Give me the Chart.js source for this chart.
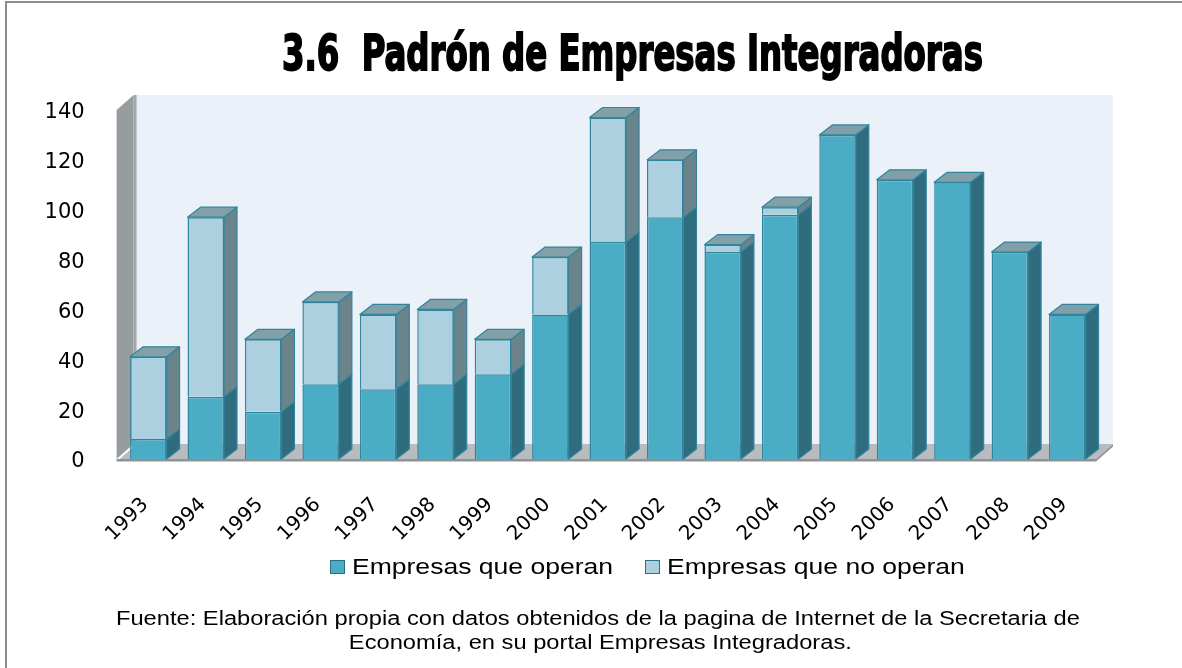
<!DOCTYPE html>
<html>
<head>
<meta charset="utf-8">
<script src="https://cdn.jsdelivr.net/npm/chart.js@4.4.1/dist/chart.umd.min.js"></script>
<style>
  html, body { margin: 0; padding: 0; background: #fff; }
  #frame { position: relative; width: 1182px; height: 668px; overflow: hidden; background: #fff; }
  #frame .edge { position: absolute; left: 5px; top: 1px; right: -4px; bottom: -4px;
    border-left: 2px solid #8d8d8d; border-top: 2px solid #8d8d8d; pointer-events: none; }
  #chart { position: absolute; left: 0; top: 0; }
  .stretch { position: absolute; white-space: nowrap; color: #000; }
  #title { font-family: "DejaVu Sans Condensed", "DejaVu Sans", sans-serif; font-weight: bold;
    font-size: 49px; line-height: 48px; top: 30px; -webkit-text-stroke: 1.8px #000;
    transform-origin: 50% 50%; }
  .foot { font-family: "Liberation Sans", Arial, sans-serif; font-size: 20px; line-height: 23px;
    transform-origin: 50% 50%; }
  #foot1 { top: 607px; }
  #foot2 { top: 631px; }
  .lg-box { position: absolute; width: 13px; height: 12px; border: 1px solid #2c7083; top: 560px; }
  .lg-text { position: absolute; font-family: "Liberation Sans", Arial, sans-serif; font-size: 22px;
    line-height: 24px; top: 555px; white-space: nowrap; color: #000; transform-origin: 0 50%; }
</style>
</head>
<body>
<div id="frame">
  <canvas id="chart" width="1182" height="668"></canvas>
  <div id="title" class="stretch">3.6&nbsp; Padrón de Empresas Integradoras</div>
  <div id="legend"></div>
  <div id="foot1" class="stretch foot">Fuente: Elaboración propia con datos obtenidos de la pagina de Internet de la Secretaria de</div>
  <div id="foot2" class="stretch foot">Economía, en su portal Empresas Integradoras.</div>
  <div class="edge"></div>
</div>
<script>
// Registered integrating companies per year
const years = ['1993','1994','1995','1996','1997','1998','1999','2000','2001',
               '2002','2003','2004','2005','2006','2007','2008','2009'];
const operan   = [8, 25, 19, 30, 28, 30, 34, 58, 87, 97, 83, 98, 130, 112, 111, 83, 58];
const noOperan = [33, 72, 29, 33, 30, 30, 14, 23, 50, 23, 3, 3, 0, 0, 0, 0, 0];
const seriesNames = ['Empresas que operan', 'Empresas que no operan'];
const yMax = 140;
const yStep = 20;

// Colours of the front, side and top faces of each series
const faceFront = ['#4bacc6', '#acd0df'];
const faceSide  = ['#2f6c7e', '#6b848c'];
const faceTop   = ['#809fa8', '#82a0a8'];
const edgeColor = '#31859c';

// Depth offsets of the pseudo-3D walls and boxes
const WALL_DX = 17, WALL_DY = 15;
const BAR_DX = 13, BAR_DY = 10;

function poly(ctx, pts, fill, stroke, lw) {
  ctx.beginPath();
  ctx.moveTo(pts[0][0], pts[0][1]);
  for (let i = 1; i < pts.length; i++) ctx.lineTo(pts[i][0], pts[i][1]);
  ctx.closePath();
  if (fill) { ctx.fillStyle = fill; ctx.fill(); }
  if (stroke) { ctx.strokeStyle = stroke; ctx.lineWidth = lw || 1; ctx.stroke(); }
}

// Back wall, side wall and floor behind the bars
const walls3d = {
  id: 'walls3d',
  beforeDatasetsDraw(chart) {
    const { ctx, chartArea: { left, right, top, bottom } } = chart;
    const wl = left - 3;
    ctx.save();
    // back wall
    ctx.fillStyle = '#eaf1f8';
    ctx.fillRect(left + WALL_DX, top - WALL_DY, right - left, bottom - top);
    // side wall
    poly(ctx, [[wl, top], [wl + WALL_DX, top - WALL_DY],
               [wl + WALL_DX, bottom - WALL_DY], [wl, bottom]], '#979c9f');
    poly(ctx, [[wl + WALL_DX, top - WALL_DY], [left + WALL_DX, top - WALL_DY],
               [left + WALL_DX, bottom - WALL_DY], [wl + WALL_DX, bottom - WALL_DY]], '#a3a8ab');
    // floor
    poly(ctx, [[left, bottom], [left + WALL_DX, bottom - WALL_DY],
               [right + WALL_DX, bottom - WALL_DY], [right, bottom]], '#b9bcbf');
    ctx.fillStyle = '#8f9294';
    ctx.fillRect(wl, bottom, right - wl, 2.5);
    poly(ctx, [[right, bottom], [right + WALL_DX, bottom - WALL_DY],
               [right + WALL_DX, bottom - WALL_DY + 2.5], [right, bottom + 2.5]], '#8f9294');
    ctx.restore();
  },
  // Side and top faces of every stacked box
  afterDatasetsDraw(chart) {
    const { ctx } = chart;
    const sets = chart.data.datasets;
    ctx.save();
    ctx.lineJoin = 'round';
    sets.forEach((ds, di) => {
      const meta = chart.getDatasetMeta(di);
      meta.data.forEach((bar, i) => {
        if (!ds.data[i]) return;
        const { x, y, base, width } = bar.getProps(['x', 'y', 'base', 'width'], true);
        const xl = x - width / 2, xr = x + width / 2;
        poly(ctx, [[xr, y], [xr + BAR_DX, y - BAR_DY], [xr + BAR_DX, base - BAR_DY], [xr, base]],
             faceSide[di], edgeColor, 1.2);
        let isTop = true;
        for (let k = di + 1; k < sets.length; k++) if (sets[k].data[i]) isTop = false;
        if (isTop) {
          poly(ctx, [[xl, y], [xl + BAR_DX, y - BAR_DY], [xr + BAR_DX, y - BAR_DY], [xr, y]],
               faceTop[di], edgeColor, 1.2);
        }
      });
    });
    ctx.restore();
  }
};

const chart = new Chart(document.getElementById('chart'), {
  type: 'bar',
  data: {
    labels: years,
    datasets: [
      { label: seriesNames[0], data: operan, backgroundColor: faceFront[0],
        borderColor: edgeColor, borderWidth: 1.5 },
      { label: seriesNames[1], data: noOperan, backgroundColor: faceFront[1],
        borderColor: edgeColor, borderWidth: 1.5 }
    ]
  },
  options: {
    responsive: false,
    animation: false,
    devicePixelRatio: 1,
    categoryPercentage: 1,
    barPercentage: 0.635,
    layout: { padding: { left: 0, right: 86, top: 110, bottom: 121 } },
    plugins: {
      title: { display: false },
      tooltip: { enabled: false },
      legend: { display: false }
    },
    scales: {
      x: {
        stacked: true,
        grid: { display: false },
        border: { display: false },
        afterFit(scale) { scale.height = 88; },
        ticks: {
          color: '#000',
          minRotation: 45, maxRotation: 45,
          padding: 26,
          labelOffset: -3,
          font: { family: '"DejaVu Sans", sans-serif', size: 20 }
        }
      },
      y: {
        stacked: true,
        min: 0, max: yMax,
        grid: { display: false },
        border: { display: false },
        afterFit(scale) { scale.width = 119.6; },
        ticks: {
          stepSize: yStep,
          color: '#000',
          padding: 27,
          labelOffset: 3,
          font: { family: '"DejaVu Sans", sans-serif', size: 21 }
        }
      }
    }
  },
  plugins: [walls3d]
});

// Legend built from the dataset names and colours
const legendEl = document.getElementById('legend');
const legendPos = [330, 645];
const texts = [];
chart.data.datasets.forEach((ds, i) => {
  const box = document.createElement('div');
  box.className = 'lg-box';
  box.style.left = legendPos[i] + 'px';
  box.style.background = ds.backgroundColor;
  legendEl.appendChild(box);
  const t = document.createElement('div');
  t.className = 'lg-text';
  t.textContent = ds.label;
  t.style.left = (legendPos[i] + 22) + 'px';
  legendEl.appendChild(t);
  texts.push(t);
});
const lgScale = 261 / texts[0].getBoundingClientRect().width;
texts.forEach(t => { t.style.transform = 'scaleX(' + lgScale + ')'; });

// Fit the title and footer lines to their widths
function fit(id, width, cx, ref) {
  const el = document.getElementById(id);
  const w = (ref ? document.getElementById(ref) : el).getBoundingClientRect().width;
  const s = width / w;
  const own = el.getBoundingClientRect().width;
  el.style.left = (cx - own / 2) + 'px';
  el.style.transform = 'scaleX(' + s + ')';
}
fit('title', 701, 632.5);
fit('foot2', 964, 600, 'foot1');
fit('foot1', 964, 598);
</script>
</body>
</html>
